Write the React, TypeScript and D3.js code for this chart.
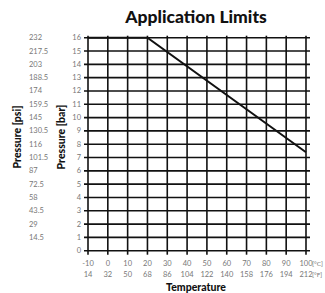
import React from "react";
import * as d3 from "d3";

const barTicks = [0, 1, 2, 3, 4, 5, 6, 7, 8, 9, 10, 11, 12, 13, 14, 15, 16];
const psiLabels = ["", "14.5", "29", "43.5", "58", "72.5", "87", "101.5", "116", "130.5", "145", "159.5", "174", "188.5", "203", "217.5", "232"];
const tempC = [-10, 0, 10, 20, 30, 40, 50, 60, 70, 80, 90, 100];
const tempF = [14, 32, 50, 68, 86, 104, 122, 140, 158, 176, 194, 212];
const limitTemp = [-10, 20, 100];
const limitBar = [16, 16, 7.4];

export default function App() {
  const x = d3.scaleLinear().domain([-10, 100]).range([88, 306]);
  const y = d3.scaleLinear().domain([0, 16]).range([250.7, 37.7]);
  const line = d3
    .line<number>()
    .x((_, i) => x(limitTemp[i]))
    .y((d) => y(d));
  const font = "Lato, 'Open Sans', sans-serif";
  const gray = "#777";
  return (
    <svg
      width={325}
      height={293}
      style={{ position: "absolute", left: 0, top: 0, background: "#fff" }}
    >
      <text x={196} y={23} textAnchor="middle" fontFamily={font} fontWeight={900} fontSize={17.5} fill="#111">
        Application Limits
      </text>
      {barTicks.map((v) => (
        <line key={"h" + v} x1={84} x2={310} y1={y(v)} y2={y(v)} stroke="#111" strokeWidth={1.6} />
      ))}
      {tempC.map((v) => (
        <line key={"v" + v} x1={x(v)} x2={x(v)} y1={y(16) - 2} y2={y(0) + 4} stroke="#111" strokeWidth={1.6} />
      ))}
      <path d={line(limitBar) || ""} fill="none" stroke="#111" strokeWidth={2} />
      {barTicks.map((v) => (
        <text key={"b" + v} x={81} y={y(v) + 2.5} textAnchor="end" fontFamily={font} fontSize={7.5} fill={gray}>
          {v}
        </text>
      ))}
      {psiLabels.map((s, i) => (
        <text key={"p" + i} x={29} y={y(barTicks[i]) + 2.5} fontFamily={font} fontSize={7.5} fill={gray}>
          {s}
        </text>
      ))}
      {tempC.map((v) => (
        <text key={"c" + v} x={x(v)} y={266} textAnchor="middle" fontFamily={font} fontSize={7.5} fill={gray}>
          {v}
        </text>
      ))}
      {tempF.map((v, i) => (
        <text key={"f" + v} x={x(tempC[i])} y={277} textAnchor="middle" fontFamily={font} fontSize={7.5} fill={gray}>
          {v}
        </text>
      ))}
      <text x={312} y={266} fontFamily={font} fontSize={6.5} fill={gray}>[°C]</text>
      <text x={312} y={277} fontFamily={font} fontSize={6.5} fill={gray}>[°F]</text>
      <text x={196} y={291} textAnchor="middle" fontFamily={font} fontWeight={900} fontSize={10.5} fill="#111">
        Temperature
      </text>
      <text transform="translate(21,137) rotate(-90)" textAnchor="middle" fontFamily={font} fontWeight={900} fontSize={10.5} fill="#111">
        Pressure [psi]
      </text>
      <text transform="translate(65,137) rotate(-90)" textAnchor="middle" fontFamily={font} fontWeight={900} fontSize={10.5} fill="#111">
        Pressure [bar]
      </text>
    </svg>
  );
}
